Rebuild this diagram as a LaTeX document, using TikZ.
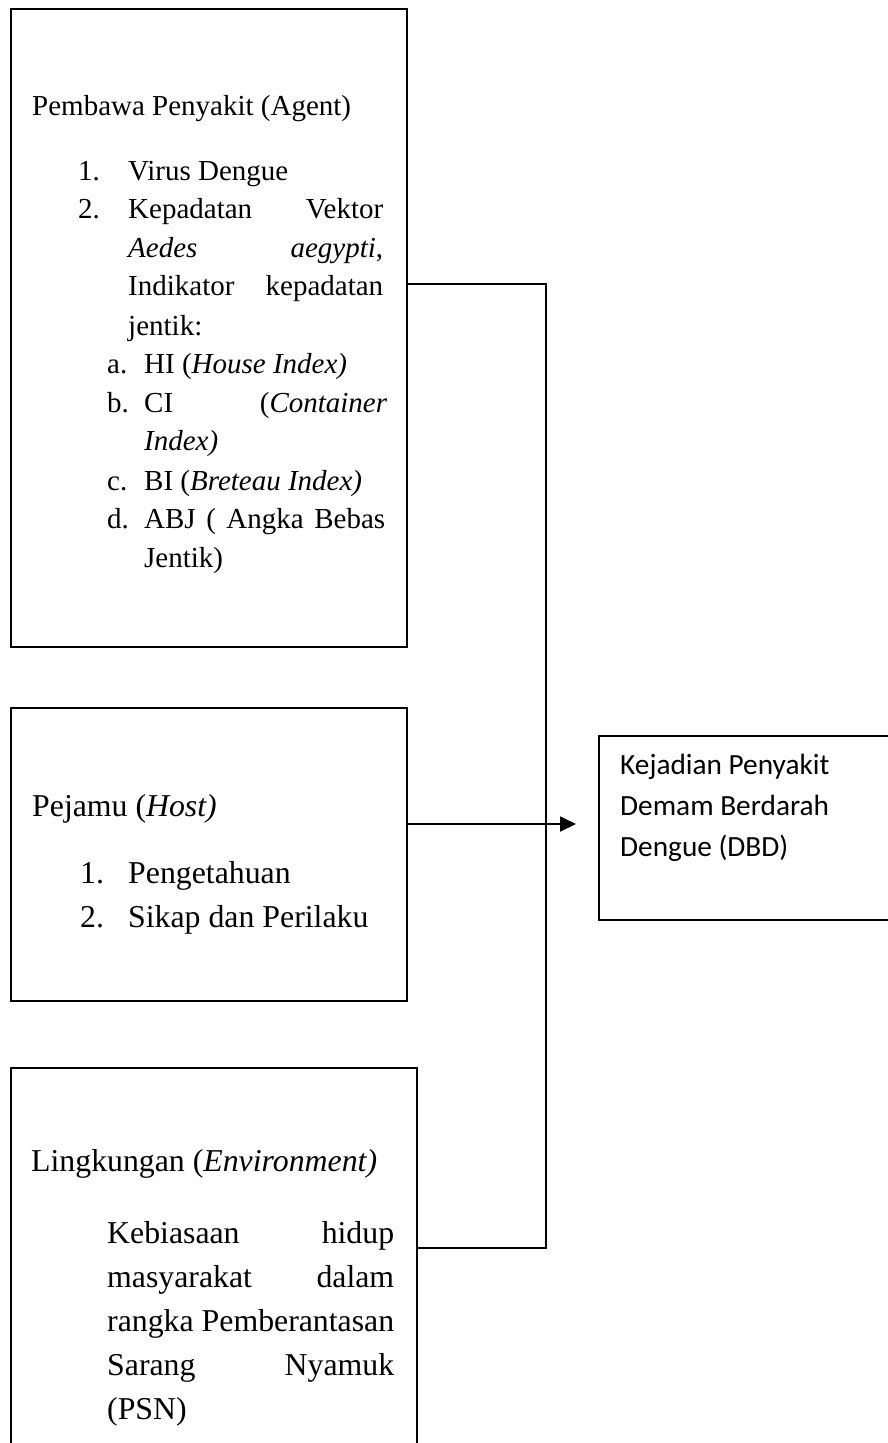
\documentclass[tikz,border=0pt]{standalone}
\usepackage{fontspec}
\setmainfont{Liberation Serif}
\newfontfamily\calibrifont{Carlito}
\usetikzlibrary{arrows.meta}
\tikzset{
  box/.style={draw, line width=1.8pt, rectangle, anchor=north west, inner sep=0pt},
  conn/.style={line width=1.8pt},
  txtA/.style={anchor=base west, inner sep=0pt, font=\fontsize{29}{38}\selectfont},
  txtB/.style={anchor=base west, inner sep=0pt, font=\fontsize{31.8}{44}\selectfont},
  txtC/.style={anchor=base west, inner sep=0pt, font=\calibrifont\fontsize{29.3}{41}\selectfont},
}
\begin{document}
\begin{tikzpicture}[x=1pt,y=-1pt]
\useasboundingbox[fill=white] (0,0) rectangle (888,1443);
% boxes
\node[box, minimum width=396pt, minimum height=638pt] (agent) at (10,8) {};
\node[box, minimum width=396pt, minimum height=293pt] (host) at (10,707) {};
\node[box, minimum width=406pt, minimum height=403pt] (env) at (10,1067) {};
\node[box, minimum width=302pt, minimum height=184pt] (res) at (598,735) {};
% agent text
\node[txtA] (a0) at (32,115) {Pembawa Penyakit (Agent)};
\node[txtA] (a1n) at (78,180) {1.};
\node[txtA] (a1) at (128,180) {Virus Dengue};
\node[txtA] (a2n) at (78,218) {2.};
\node[txtA] (a2) at (128,218) {\hbox to 255pt{Kepadatan\hfill Vektor}};
\node[txtA] (a3) at (128,257) {\hbox to 255pt{\textit{Aedes}\hfill\textit{aegypti},}};
\node[txtA] (a4) at (128,295) {\hbox to 255pt{Indikator\hfill kepadatan}};
\node[txtA] (a5) at (128,335) {jentik:};
\node[txtA] (ban) at (107,373) {a.};
\node[txtA] (ba) at (144,373) {HI (\textit{House Index)}};
\node[txtA] (bbn) at (107,412) {b.};
\node[txtA] (bb) at (144,412) {\hbox to 243pt{CI\hfill(\textit{Container}}};
\node[txtA] (bb2) at (144,450) {\textit{Index)}};
\node[txtA] (bcn) at (107,490) {c.};
\node[txtA] (bc) at (144,490) {BI (\textit{Breteau Index)}};
\node[txtA] (bdn) at (107,528) {d.};
\node[txtA] (bd) at (144,528) {\makebox[241pt][s]{ABJ ( Angka Bebas}};
\node[txtA] (bd2) at (144,567) {Jentik)};
% host text
\node[txtB] (h0) at (32,816) {Pejamu (\textit{Host)}};
\node[txtB] (h1n) at (80,883) {1.};
\node[txtB] (h1) at (128,883) {Pengetahuan};
\node[txtB] (h2n) at (80,927) {2.};
\node[txtB] (h2) at (128,927) {Sikap dan Perilaku};
% environment text
\node[txtB] (e0) at (31,1171) {Lingkungan (\textit{Environment)}};
\node[txtB] (e1) at (107,1243) {\hbox to 287pt{Kebiasaan\hfill hidup}};
\node[txtB] (e2) at (107,1287) {\hbox to 287pt{masyarakat\hfill dalam}};
\node[txtB] (e3) at (107,1331) {\hbox to 287pt{rangka\hfill Pemberantasan}};
\node[txtB] (e4) at (107,1375) {\hbox to 287pt{Sarang\hfill Nyamuk}};
\node[txtB] (e5) at (107,1419) {(PSN)};
% result text
\node[txtC] (r1) at (620,774) {Kejadian Penyakit};
\node[txtC] (r2) at (620,815) {Demam Berdarah};
\node[txtC] (r3) at (620,856) {Dengue (DBD)};
% connectors
\coordinate (j1) at (546,284);
\coordinate (j3) at (546,1248);
\coordinate (ay) at (0,824);
\coordinate (atip) at (576,824);
\draw[conn] (agent.east |- j1) -- (j1) -- (j3) -- (env.east |- j3);
\draw[conn, -{Triangle[length=16pt,width=15pt]}] (host.east |- ay) -- (atip);
\end{tikzpicture}
\end{document}
